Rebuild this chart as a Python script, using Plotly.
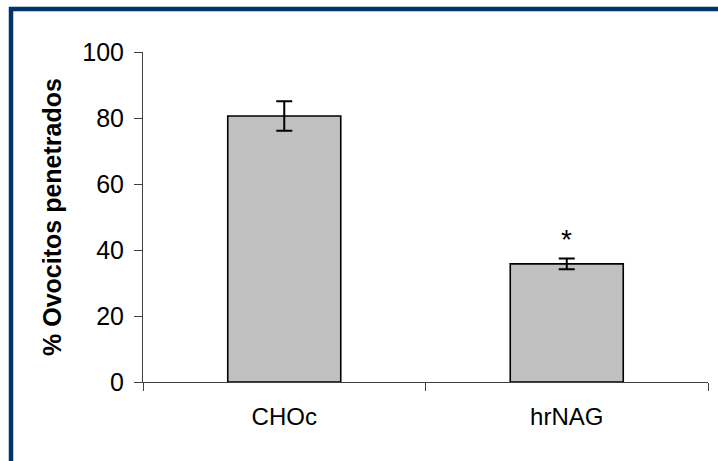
import plotly.graph_objects as go

# Penetrated oocytes (%) per treatment, mean and error
categories = ["CHOc", "hrNAG"]
penetrated_pct = [80.6, 35.8]
error_pct = [4.5, 1.6]
significance = ["", "*"]
y_ticks = [0, 20, 40, 60, 80, 100]

FONT = "Arial, Liberation Sans, sans-serif"

fig = go.Figure()
fig.add_trace(go.Bar(
    x=categories,
    y=penetrated_pct,
    marker=dict(color="#c0c0c0", line=dict(color="#000000", width=1.6)),
    error_y=dict(type="data", array=error_pct, visible=True,
                 color="#000000", thickness=2, width=8),
    showlegend=False,
))

# significance marks above the error bars
for cat, val, err, mark in zip(categories, penetrated_pct, error_pct, significance):
    if mark:
        fig.add_annotation(x=cat, y=val + err, text=mark, showarrow=False,
                           yanchor="bottom", yshift=2,
                           font=dict(family=FONT, size=28, color="#000000"))

# dark blue frame around the figure
fig.add_shape(type="rect", xref="paper", yref="paper",
              x0=(11 - 143) / 565, x1=(760 - 143) / 565,
              y0=(382 - 500) / 330, y1=(382 - 9) / 330,
              line=dict(color="#003366", width=4.5), fillcolor="rgba(0,0,0,0)")

fig.update_layout(
    width=718, height=461,
    margin=dict(l=143, r=10, t=52, b=79),
    paper_bgcolor="#ffffff", plot_bgcolor="#ffffff",
    bargap=0.6,
    font=dict(family=FONT, size=24, color="#000000"),
)
fig.update_xaxes(
    type="category", tickson="boundaries",
    ticks="outside", ticklen=8, tickcolor="#404040", tickwidth=1,
    showline=True, linecolor="#404040", linewidth=1,
    showgrid=False, zeroline=False,
    tickfont=dict(size=24), ticklabelstandoff=13,
)
fig.update_yaxes(
    range=[0, 100], tickvals=y_ticks,
    ticks="outside", ticklen=8, tickcolor="#404040", tickwidth=1,
    showline=True, linecolor="#404040", linewidth=1,
    showgrid=False, zeroline=False,
    tickfont=dict(size=25), ticklabelstandoff=5,
    title=dict(text="<b>% Ovocitos penetrados</b>", standoff=13,
               font=dict(size=25)),
)

fig.write_html("out.html")
